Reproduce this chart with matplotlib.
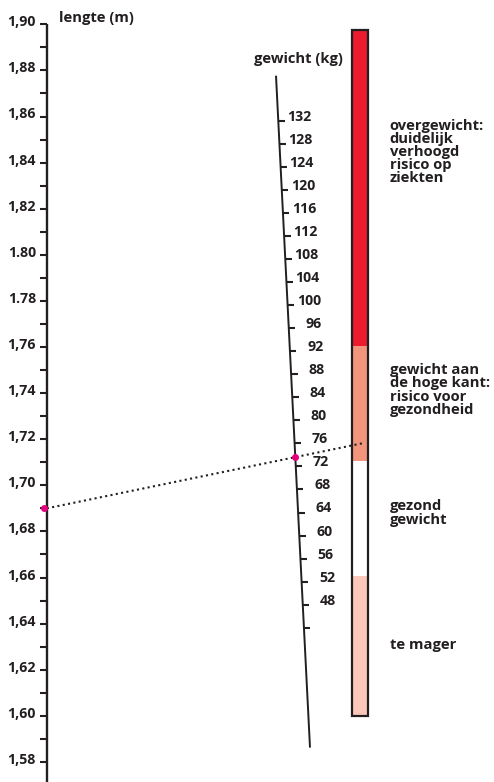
import numpy as np
import matplotlib
matplotlib.use("Agg")
import matplotlib.pyplot as plt

plt.rcParams['font.family'] = ['Open Sans', 'DejaVu Sans']

# ---------------- data ----------------
height_ticks = [1.58, 1.60, 1.62, 1.64, 1.66, 1.68, 1.70, 1.72, 1.74, 1.76, 1.78, 1.80, 1.82, 1.84, 1.86, 1.88, 1.90]
height_minor = [1.59, 1.61, 1.63, 1.65, 1.67, 1.69, 1.71, 1.73, 1.75, 1.77, 1.79, 1.81, 1.83, 1.85, 1.87, 1.89]
height_labels = ["1,58", "1,60", "1,62", "1,64", "1,66", "1,68", "1,70", "1,72", "1,74", "1,76",
                 "1.78", "1.80", "1,82", "1,84", "1,86", "1,88", "1,90"]
weight_ticks = [44, 48, 52, 56, 60, 64, 68, 72, 76, 80, 84, 88, 92, 96, 100, 104, 108, 112, 116, 120, 124, 128, 132]
weight_labels = ["", "48", "52", "56", "60", "64", "68", "72", "76", "80", "84", "88", "92", "96",
                 "100", "104", "108", "112", "116", "120", "124", "128", "132"]
bmi_bounds = [20, 25, 30]
categories = ["te mager", "gezond\ngewicht", "gewicht aan\nde hoge kant:\nrisico voor\ngezondheid",
              "overgewicht:\nduidelijk\nverhoogd\nrisico op\nziekten"]
person_height = 1.69
person_weight = 73.6

# ---------------- style / layout ----------------
TXT = "#231f20"
cat_colors = ["#f9c8b8", "#ffffff", "#f2957d", "#ec1c2e"]
MAGENTA = "#e5007d"
W, H = 494, 782
PX_PER_M = 2305.0            # pixels per metre on the height axis
Y_190 = 24.3                 # pixel row of 1.90

def py2h(p):                 # pixel row -> height units (layout helper)
    return 1.90 - (p - Y_190) / PX_PER_M

# weight scale (nomogram): height units per kg, anchored at 48 kg
W_REF, W_Y, K_W = 48, py2h(604.7), 0.0025
def wy(w):
    return W_Y + (np.asarray(w, float) - W_REF) * K_W
# BMI scale on the bar
B_REF, B_Y, K_B = 25, py2h(461.1), 0.0100
def by(b):
    return B_Y + (np.asarray(b, float) - B_REF) * K_B

# slanted weight line: x as function of y
WL_TOP_W, WL_BOT_W = 139.8, 23.2
WL_X_TOP, WL_X_BOT = 276.0, 310.0
def wx(y):
    yt, yb = wy(WL_TOP_W), wy(WL_BOT_W)
    return WL_X_TOP + (yt - y) / (yt - yb) * (WL_X_BOT - WL_X_TOP)

AX_X = 46.8
BAR_X0, BAR_X1 = 352.0, 368.3
BAR_LO, BAR_HI = 13.92, 43.72

fig = plt.figure(figsize=(W / 100, H / 100), dpi=100)
ax = fig.add_axes([0, 0, 1, 1])
ax.set_xlim(0, W)
ax.set_ylim(py2h(H), py2h(0))
ax.axis("off")

FS_TICK = 10.2
FS_TXT = 10.6

# ---- height axis ----
ax.plot([AX_X, AX_X], [1.90, py2h(H + 5)], color=TXT, lw=1.7, solid_capstyle="butt")
for h, lab in zip(height_ticks, height_labels):
    ax.plot([AX_X - 6.5, AX_X], [h, h], color=TXT, lw=1.5, solid_capstyle="butt")
    ax.text(36.0, h + 2 / PX_PER_M, lab, ha="right", va="center", fontsize=FS_TICK,
            fontweight="bold", color=TXT)
for h in height_minor:
    ax.plot([AX_X - 6.5, AX_X], [h, h], color=TXT, lw=1.5, solid_capstyle="butt")
ax.text(59, py2h(18.3), "lengte (m)", ha="left", va="center", fontsize=FS_TXT,
        fontweight="bold", color=TXT)

# ---- weight axis ----
yt, yb = float(wy(WL_TOP_W)), float(wy(WL_BOT_W))
ax.plot([wx(yt), wx(yb)], [yt, yb], color=TXT, lw=1.4, solid_capstyle="butt")
for w, lab in zip(weight_ticks, weight_labels):
    y = float(wy(w))
    x = wx(y)
    ax.plot([x, x + 6.5], [y, y], color=TXT, lw=1.5, solid_capstyle="butt")
    if lab:
        ax.text(x + 33.4, y + 4 / PX_PER_M, lab, ha="right", va="center", fontsize=FS_TICK,
                fontweight="bold", color=TXT)
ax.text(298.5, py2h(59), "gewicht (kg)", ha="center", va="center", fontsize=FS_TXT,
        fontweight="bold", color=TXT)

# ---- BMI bar ----
edges = [BAR_LO] + bmi_bounds + [BAR_HI]
for i, c in enumerate(cat_colors):
    lo, hi = by(edges[i]), by(edges[i + 1])
    ax.bar((BAR_X0 + BAR_X1) / 2, hi - lo, bottom=lo, width=BAR_X1 - BAR_X0,
           color=c, edgecolor="none", zorder=2)
ax.add_patch(plt.Rectangle((BAR_X0, by(BAR_LO)), BAR_X1 - BAR_X0, by(BAR_HI) - by(BAR_LO),
                           fill=False, edgecolor=TXT, lw=1.6, zorder=4))

cat_text_y = [645, 513, 390, 152]
for lab, p in zip(categories, cat_text_y):
    ax.text(389.5, py2h(p), lab, ha="left", va="center", fontsize=FS_TXT, fontweight="bold",
            color=TXT, linespacing=0.93)

# ---- example person ----
bmi = person_weight / person_height ** 2
x_end = 362.0
ax.plot([AX_X, x_end], [person_height, float(by(bmi))], color=TXT, lw=1.5,
        linestyle=(0, (1, 1.6)), dash_capstyle="butt", zorder=5)
yw = float(wy(person_weight))
ax.plot([44.0, wx(yw)], [person_height, yw], linestyle="none", marker="o", markersize=4,
        color=MAGENTA, zorder=6)

fig.savefig("out.png", dpi=100)
